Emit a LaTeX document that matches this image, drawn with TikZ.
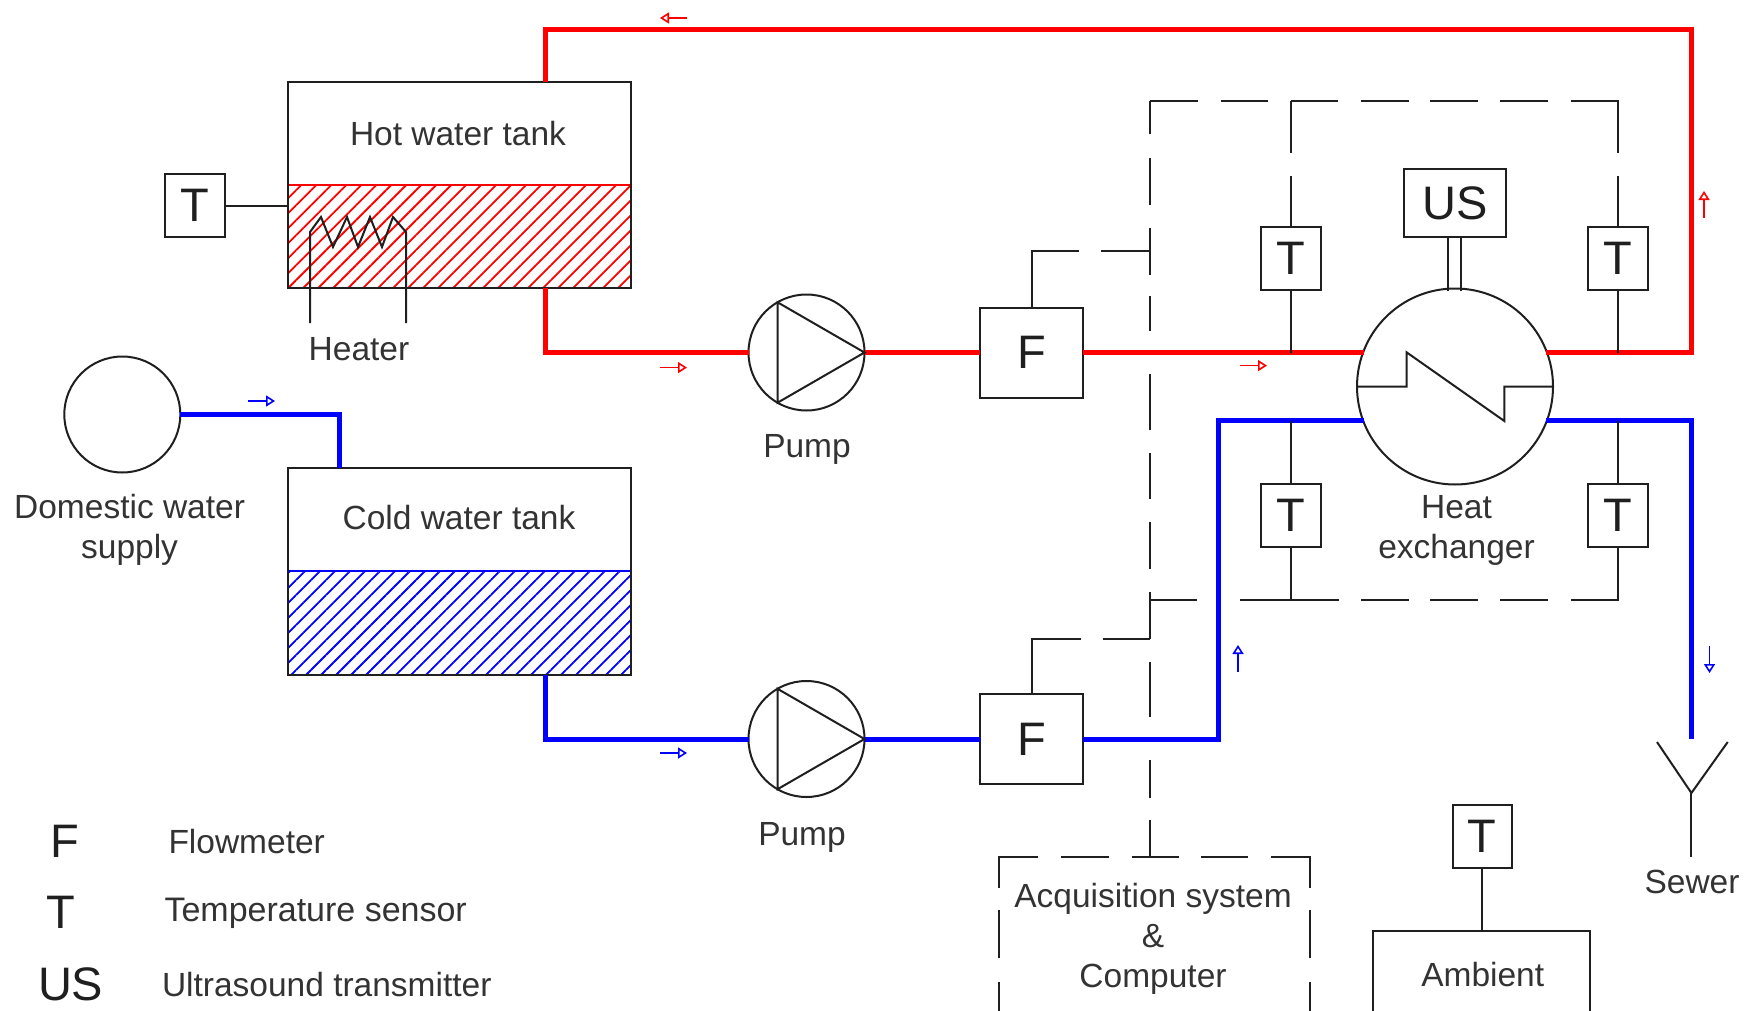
\documentclass[tikz,border=0pt]{standalone}
\usepackage{fontspec}
\setmainfont{Liberation Sans}
\usetikzlibrary{arrows.meta,patterns.meta}
\definecolor{textgray}{rgb}{0.2,0.2,0.2}
\definecolor{linegray}{rgb}{0.12,0.12,0.12}
\tikzset{
	lbl/.style={inner sep=0pt,outer sep=0pt,text=textgray,align=center,font=\fontsize{33.5}{40}\selectfont},
	symb/.style={inner sep=0pt,outer sep=0pt,text=linegray,font=\fontsize{47}{47}\selectfont},
	sensorbox/.style={symb,draw=linegray,line width=2pt,fill=white,minimum width=60pt,minimum height=63pt},
	meterbox/.style={symb,draw=linegray,line width=2pt,fill=white,minimum width=103.5pt,minimum height=90pt},
	tankbox/.style={draw=linegray,line width=2pt,inner sep=0pt,outer sep=0pt,minimum width=343pt},
	roundbox/.style={circle,draw=linegray,line width=2pt,fill=white,inner sep=0pt,outer sep=0pt},
	sigline/.style={draw=linegray,line width=2pt},
	hotpipe/.style={draw=red,line width=5pt},
	coldpipe/.style={draw=blue,line width=5pt},
	hotflow/.style={draw=red,line width=1.6pt,-{Triangle[open,length=9pt,width=11pt]}},
	coldflow/.style={draw=blue,line width=1.6pt,-{Triangle[open,length=9pt,width=11pt]}},
}
\begin{document}
\begin{tikzpicture}[x=1pt,y=1pt,yscale=-1,xscale=1]
	\useasboundingbox (0,0) rectangle (1752,1011);
	
	%Shape: hatching of the two tanks
	\path [pattern={Lines[angle=45,distance=10.6pt,line width=1.8pt]},pattern color=red] (288,185) rectangle (631,288);
	\path [pattern={Lines[angle=45,distance=10.6pt,line width=1.8pt]},pattern color=blue] (288,571) rectangle (631,675);
	\draw [red,line width=2pt] (288,185) -- (631,185);
	\draw [blue,line width=2pt] (288,571) -- (631,571);
	
	%Shape: tanks, pumps, meters
	\node [tankbox,minimum height=206pt] (hottank) at (459.5,185) {};
	\node [tankbox,minimum height=207pt] (coldtank) at (459.5,571.5) {};
	\node [roundbox,minimum size=116pt] (pumphot) at (806.5,352.5) {};
	\node [roundbox,minimum size=116pt] (pumpcold) at (806.5,739) {};
	\node [roundbox,minimum size=116pt] (supply) at (122.3,414.5) {};
	\node [roundbox,minimum size=196pt] (hx) at (1455,386.5) {};
	\node [meterbox] (fhot) at (1031.5,352.5) {F};
	\node [meterbox] (fcold) at (1031.5,739) {F};
	
	%Shape: temperature sensors
	\node [sensorbox] (ttank) at (195,205.5) {T};
	\node [sensorbox] (thotin) at (1291,258.5) {T};
	\node [sensorbox] (thotout) at (1618.2,258.5) {T};
	\node [sensorbox] (tcoldin) at (1291,515) {T};
	\node [sensorbox] (tcoldout) at (1618.2,515) {T};
	\node [sensorbox,minimum width=59pt] (tamb) at (1482,836.5) {T};
	\node [symb,draw=linegray,line width=2pt,minimum width=102pt,minimum height=68pt] (us) at (1455,203) {US};
	
	%Free ends of the lines
	\coordinate (hotout) at (545.5,288);
	\coordinate (hotback) at (545.5,82);
	\coordinate (hotturn) at (1691.4,29.5);
	\coordinate (hxhotin) at (1364,352.5);
	\coordinate (hxhotout) at (1546,352.5);
	\coordinate (hxcoldin) at (1364,420.7);
	\coordinate (hxcoldout) at (1546,420.7);
	\coordinate (coldin) at (339,468);
	\coordinate (coldout) at (545.5,675);
	\coordinate (coldturn) at (1218,739);
	\coordinate (sewerin) at (1691.4,739);
	\coordinate (sewerfork) at (1691.4,793);
	\coordinate (sewerend) at (1691.4,857);
	\coordinate (busup) at (1150.4,101);
	\coordinate (busdown) at (1150.4,600);
	\coordinate (busend) at (1150.4,857);
	\coordinate (bushot) at (1150.4,251.4);
	\coordinate (buscold) at (1150.4,638.6);
	
	%Straight Lines: pipes
	\draw [hotpipe] (hotout) |- (pumphot.west);
	\draw [hotpipe] (pumphot.east) -- (fhot.west);
	\draw [hotpipe] (fhot.east) -- (hxhotin);
	\draw [hotpipe] (hxhotout) -| (hotturn) -| (hotback);
	\draw [coldpipe] (supply.east) -| (coldin);
	\draw [coldpipe] (coldout) |- (pumpcold.west);
	\draw [coldpipe] (pumpcold.east) -- (fcold.west);
	\draw [coldpipe] (hxcoldin) -| (coldturn) -- (fcold.east);
	\draw [coldpipe] (hxcoldout) -| (sewerin);
	
	%Straight Lines: signal lines
	\draw [sigline] (ttank.east) -- (ttank.east -| hottank.west);
	\draw [sigline] (thotin.south) -- (thotin.south |- hxhotin);
	\draw [sigline] (thotout.south) -- (thotout.south |- hxhotout);
	\draw [sigline] (tcoldin.north) -- (tcoldin.north |- hxcoldin);
	\draw [sigline] (tcoldout.north) -- (tcoldout.north |- hxcoldout);
	\draw [sigline] (tcoldin.south) -- (tcoldin.south |- busdown);
	\draw [sigline,dash pattern=on 51pt off 23pt on 60pt] (thotin.north) -- (thotin.north |- busup);
	\draw [sigline,dash pattern=on 47.9pt off 22.5pt on 47.5pt off 22.9pt on 47.1pt off 22.9pt on 47.5pt off 21.7pt on 47.4pt off 22.6pt on 47.8pt off 22.6pt on 99.4pt off 23pt on 60pt] (busup) -| (thotout.north);
	\draw [sigline,dash pattern=on 46.7pt off 42.7pt on 98.9pt off 22.5pt on 47.5pt off 21.7pt on 47.4pt off 22.6pt on 47.8pt off 22.6pt on 110pt] (busdown) -| (tcoldout.south);
	\draw [sigline,dash pattern=on 33pt off 24pt on 47pt off 23pt on 47pt off 21pt on 35pt off 43pt on 56pt off 23pt on 46pt off 23pt on 47pt off 23pt on 47pt off 23pt on 55pt off 43pt on 38pt off 22pt on 40pt] (busup) -- (busend);
	\draw [sigline,dash pattern=on 104pt off 22pt on 60pt] (fhot.north) |- (bushot);
	\draw [sigline,dash pattern=on 104.4pt off 22.7pt on 60pt] (fcold.north) |- (buscold);
	\draw [sigline] (tamb.south) -- (tamb.south |- 0,930.7);
	\draw [sigline] (us.south -| 1448.4,0) -- (1448.4,290.5);
	\draw [sigline] (us.south -| 1461.4,0) -- (1461.4,290.5);
	
	%Shape: symbols inside the pumps and the exchanger
	\draw [sigline] (pumphot.east) -- (pumphot.120) -- (pumphot.240) -- cycle;
	\draw [sigline] (pumpcold.east) -- (pumpcold.120) -- (pumpcold.240) -- cycle;
	\draw [sigline] (hx.west) -- (1406.7,386.5) -- (1406.7,352.4) -- (1504.3,421) -- (1504.3,386.5) -- (hx.east);
	
	%Shape: heater
	\draw [sigline] (310,323) -- (310,232) -- (321,217) -- (333,247) -- (347,217) -- (358,247) -- (370,217) -- (382,247) -- (393,217) -- (406,232) -- (406,323);
	
	%Shape: sewer
	\draw [sigline] (1657,742) -- (sewerfork) -- (1727.7,742);
	\draw [sigline] (sewerfork) -- (sewerend);
	
	%Shape: acquisition box and ambient box, both cut by the page
	\draw [sigline,dash pattern=on 33pt off 24pt on 48pt off 22pt on 69.9pt off 22.7pt on 48pt off 22.7pt on 47pt off 22.7pt on 46.5pt off 22.7pt on 70.4pt off 22pt on 48pt off 24pt on 33pt] (999.4,1015) |- (1310,857) -- (1310,1015);
	\draw [sigline] (1373,1015) |- (1590.3,930.7) -- (1590.3,1015);
	
	%Flow arrows
	\draw [hotflow] (687,18) -- ++(-27,0);
	\draw [hotflow] (660,367.6) -- ++(27,0);
	\draw [hotflow] (1240,365.6) -- ++(27,0);
	\draw [hotflow] (1704,218) -- ++(0,-27);
	\draw [coldflow] (248,401) -- ++(27,0);
	\draw [coldflow] (660,753) -- ++(27,0);
	\draw [coldflow] (1238,672) -- ++(0,-27);
	\draw [coldflow] (1709.5,646) -- ++(0,27);
	
	% Text Node
	\node [lbl] (hotlabel) at (458,133.5) {Hot water tank};
	% Text Node
	\node [lbl] (coldlabel) at (459,517.5) {Cold water tank};
	% Text Node
	\node [lbl] (heaterlabel) at (359,349) {Heater};
	% Text Node
	\node [lbl] (supplylabel) at (129.6,529.5) {Domestic water\\supply};
	% Text Node
	\node [lbl] (pumphotlabel) at (807,449.4) {Pump};
	% Text Node
	\node [lbl] (pumpcoldlabel) at (802,837.4) {Pump};
	% Text Node
	\node [lbl] (hxlabel) at (1456.5,530.5) {Heat\\exchanger};
	% Text Node
	\node [lbl] (acqlabel) at (1153,939) {Acquisition system\\\&\\Computer};
	% Text Node
	\node [lbl] (amblabel) at (1482.7,974.5) {Ambient};
	% Text Node
	\node [lbl] (sewerlabel) at (1692,881.5) {Sewer};
	
	% Legend
	\node [symb] (legf) at (65,841) {F};
	\node [symb] (legt) at (61,912) {T};
	\node [symb] (legus) at (70.7,984.5) {US};
	\node [lbl,anchor=west] (legflow) at (168.5,841.5) {Flowmeter};
	\node [lbl,anchor=west,font=\fontsize{34}{40}\selectfont] (legtemp) at (164.5,913.5) {Temperature sensor};
	\node [lbl,anchor=west] (legultra) at (162,984.5) {Ultrasound transmitter};
\end{tikzpicture}
\end{document}
